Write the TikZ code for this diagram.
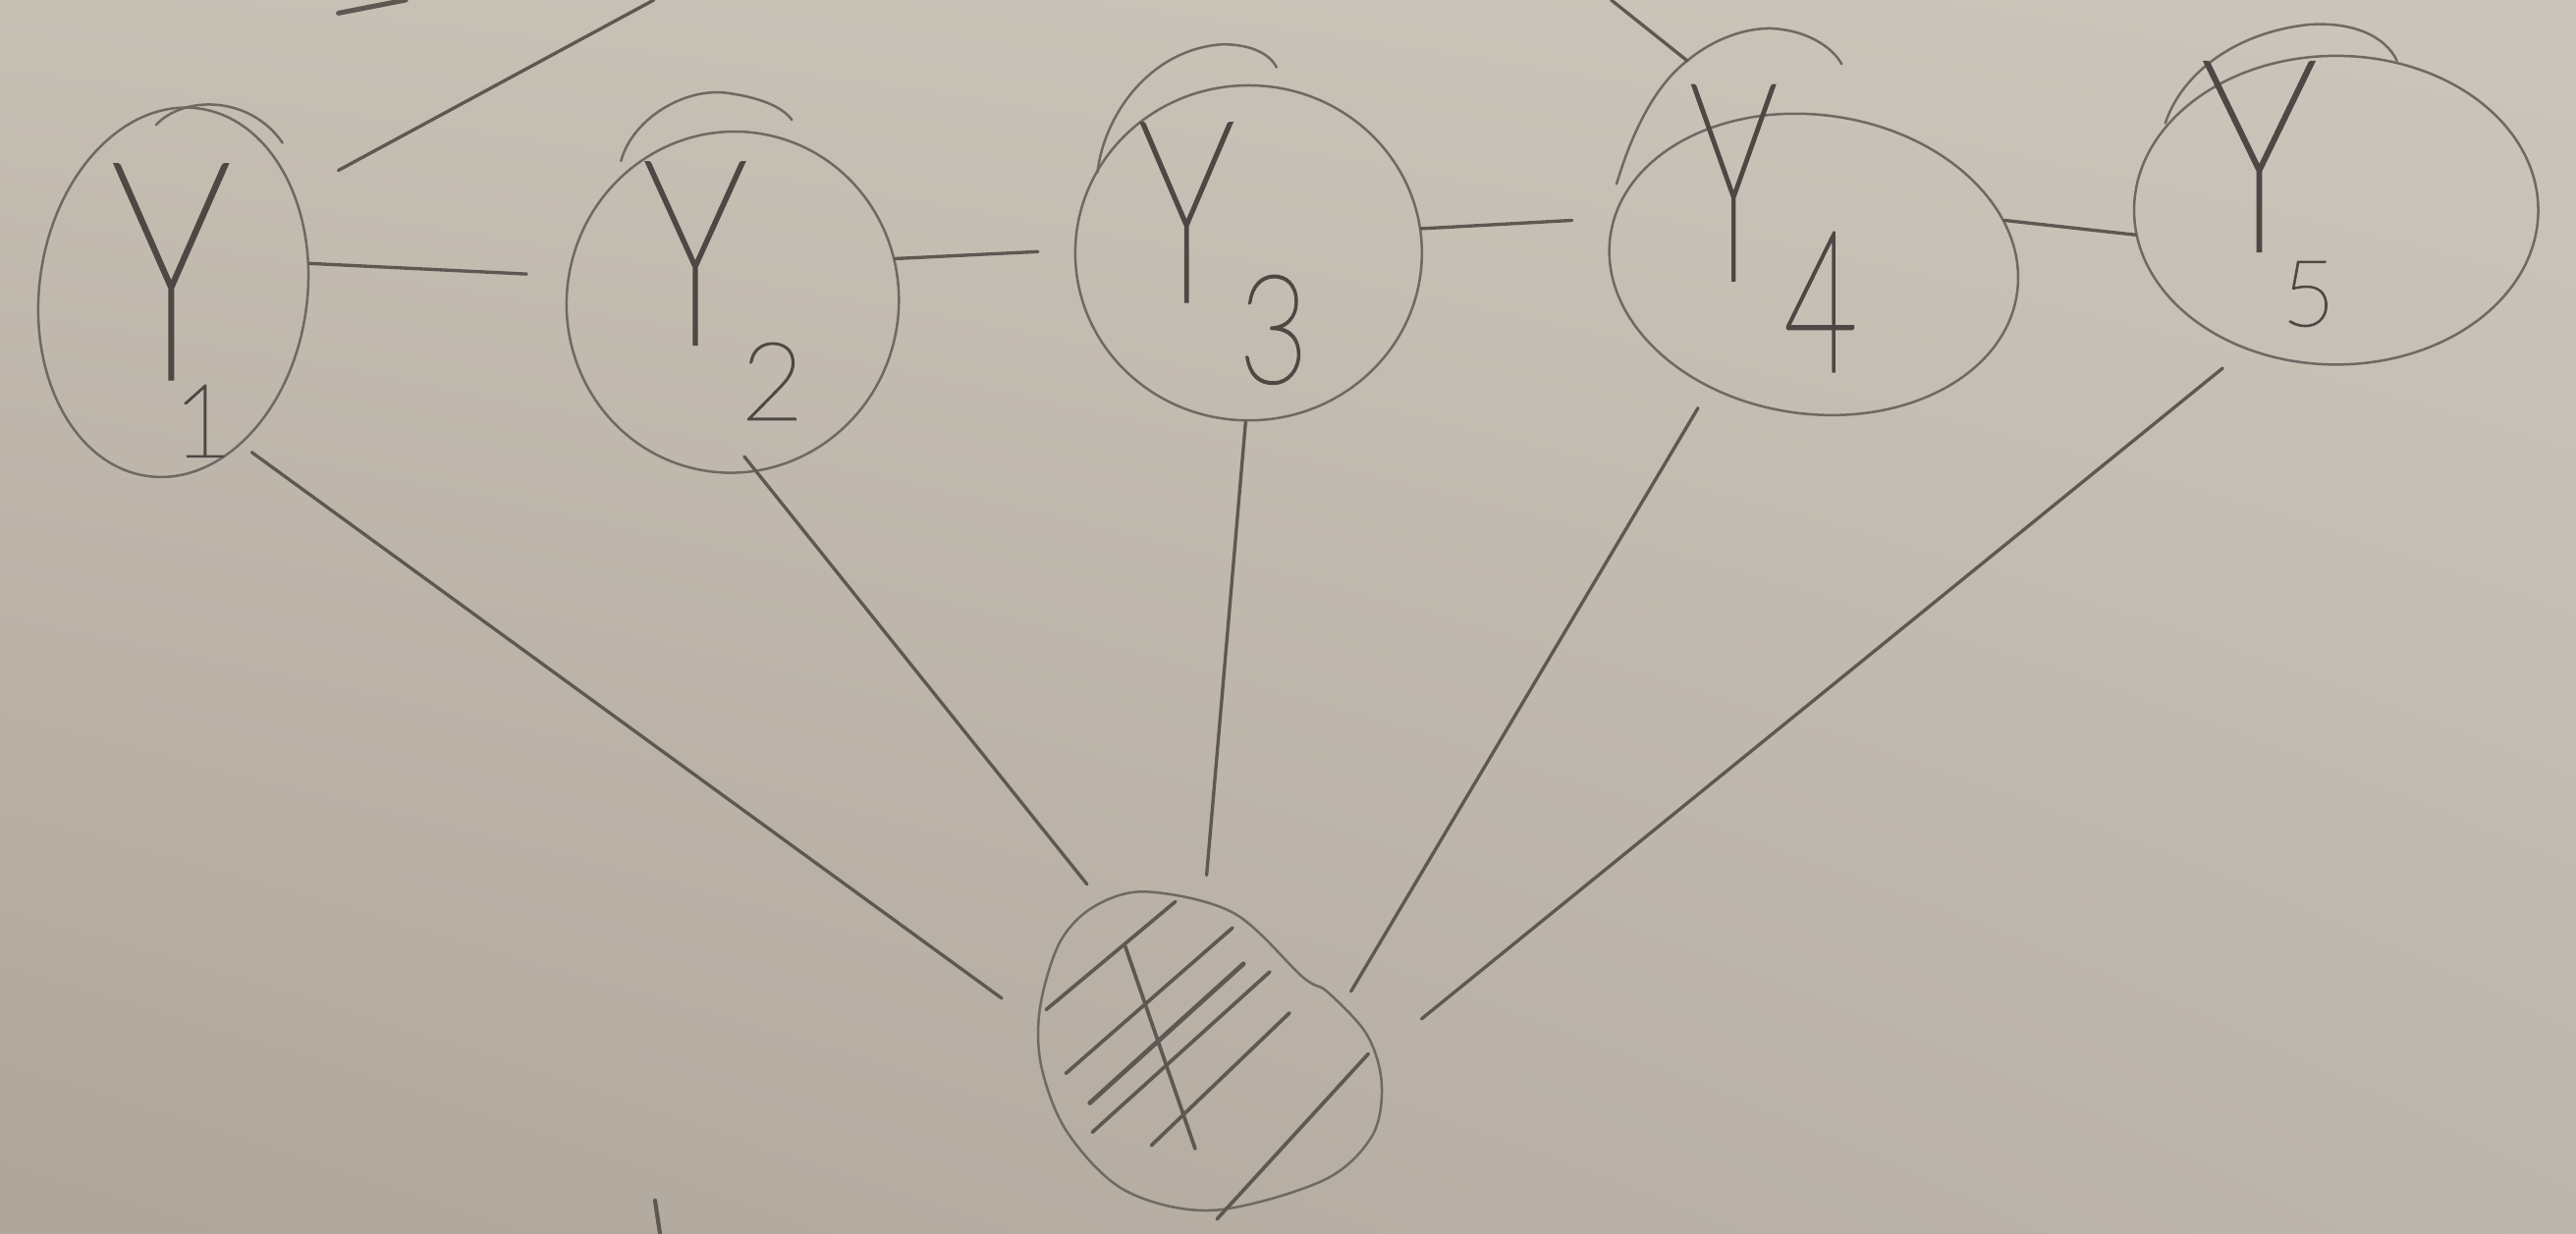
\documentclass[tikz,border=0pt]{standalone}
\usepackage{fontspec}
\usetikzlibrary{shapes.geometric,shadings}
\IfFontExistsTF{Lato Thin}{\newfontfamily\handfont{Lato Thin}[FakeBold=1.6]}{%
 \IfFontExistsTF{Fira Sans Thin}{\newfontfamily\handfont{Fira Sans Thin}[FakeBold=1.6]}{%
  \IfFontExistsTF{DejaVu Sans ExtraLight}{\newfontfamily\handfont{DejaVu Sans ExtraLight}}{\newfontfamily\handfont{DejaVu Sans}}}}
\newcommand\handsz[1]{\handfont\fontsize{#1}{#1}\selectfont}
% one label: Y centred on the node point, subscript digit centred dx to the right and lowered by dy
\newcommand\ylabel[6]{\makebox[0pt]{\handsz{#1}\scalebox{#2}[1]{Y}}\hspace*{#3pt}\makebox[0pt]{\raisebox{-#4pt}{\handsz{#5}#6}}}
\definecolor{paperUL}{HTML}{C6BFB4}
\definecolor{paperUR}{HTML}{CBC5BB}
\definecolor{paperLL}{HTML}{AFA59B}
\definecolor{paperLR}{HTML}{BDB6AC}
\definecolor{ink}{HTML}{6E6963}
\definecolor{edgeink}{HTML}{5E5853}
\definecolor{labink}{HTML}{4D4844}
\begin{document}
\begin{tikzpicture}[x=1pt,y=-1pt,
  oval/.style 2 args={ellipse, draw=ink, line width=1.5pt, minimum width=#1pt, minimum height=#2pt, inner sep=0pt},
  inkline/.style={draw=ink, line width=1.5pt, line cap=round},
  edge/.style={draw=edgeink, line width=2pt, line cap=round},
  hatch/.style={draw=edgeink, line width=2.2pt, line cap=round},
  lab/.style={inner sep=0pt, text=labink, anchor=base west}]
\useasboundingbox (0,0) rectangle (1568,751);
\shade[upper left=paperUL, upper right=paperUR, lower left=paperLL, lower right=paperLR] (0,0) rectangle (1568,751);
\clip (0,0) rectangle (1568,751);

% nodes
\node[oval={163}{226}, rotate=-8] (Y1) at (105.5,178) {};
\node[oval={202}{208}, rotate=-12] (Y2) at (446,184) {};
\node[oval={211}{204}] (Y3) at (760,154) {};
\node[oval={250}{182}, rotate=-8] (Y4) at (1104,161) {};
\node[oval={246}{188}] (Y5) at (1422,128) {};
\node[ellipse, minimum width=208pt, minimum height=194pt, inner sep=0pt] (X) at (737,640) {};

% hand-drawn overshoots of the circles
\draw[inkline] (95,76) .. controls (112,58) and (152,58) .. (172,87);
\draw[inkline] (378,98) .. controls (385,72) and (418,52) .. (445,57) .. controls (465,60) and (477,66) .. (482,73);
\draw[inkline] (668,105) .. controls (672,70) and (700,30) .. (744,27) .. controls (762,27) and (773,33) .. (777,41);
\coordinate (Y4tip) at (1027,37);
\draw[inkline] (984,112) .. controls (995,75) and (1010,50) .. (Y4tip) .. controls (1045,22) and (1068,15) .. (1085,18) .. controls (1100,20) and (1115,28) .. (1121,39);
\draw[inkline] (1318,75) .. controls (1328,45) and (1360,20) .. (1405,15) .. controls (1432,13) and (1452,22) .. (1459,37);

% X outline and hatching
\draw[inkline] plot[smooth cycle, tension=0.55] coordinates {(698,543) (751,556) (793,595) (808,604) (832,630) (841,660) (835,692) (805,719) (738,737) (685,725) (650,690) (634,650) (633,614) (645,574) (666,552)};
\draw[hatch] (636.8,614.8) -- (715.5,549);
\draw[hatch] (648.8,653.6) -- (750.2,565);
\draw[hatch, line width=2.8pt] (663.4,671.6) -- (756.9,586.9);
\draw[hatch] (664.8,689.5) -- (772.9,591.8);
\draw[hatch] (700.8,697.5) -- (784.9,616.8);
\draw[hatch] (740.8,742.3) -- (832.9,641.7);
\draw[hatch] (684.8,575.9) -- (727.5,699.5);

% labels (node point = centre of the Y on its baseline)
\node[lab] (L1) at (104,230.3) {\ylabel{185}{0.68}{19}{47.9}{62}{1}};
\node[lab] (L2) at (423,209.2) {\ylabel{157}{0.7}{47}{46.4}{66}{2}};
\node[lab] (L3) at (722,183.2) {\ylabel{154}{0.66}{53}{49.8}{92}{\scalebox{0.8}[1]{3}}};
\node[lab] (L4) at (1055,170.2) {\ylabel{168}{0.55}{53}{55.8}{120}{\scalebox{0.65}[1]{4}}};
\node[lab] (L5) at (1375,152.4) {\ylabel{163}{0.75}{30}{46}{56}{5}};

% chain edges
\draw[edge, shorten >=25pt] (Y1.20) -- (Y2.183);
\draw[edge, shorten >=22pt] (Y2.27) -- (Y3.179);
\draw[edge, shorten >=25pt] (Y3.8) -- (Y4.175);
\draw[edge] (Y4.21) -- (Y5.187);

% edges to X
\draw[edge, shorten <=8pt, shorten >=30pt] (Y1.-58) -- (X.172);
\draw[edge, shorten <=-12pt, shorten >=27pt] (Y2.-70) -- (X.126);
\draw[edge, shorten >=10pt] (Y3.-91) -- (X.92);
\draw[edge, shorten <=14pt, shorten >=-12pt] (Y4.238) -- (X.27);
\draw[edge, shorten <=18pt, shorten >=31pt] (Y5.237) -- (X.0);

% edges leaving the picture
\coordinate (T1) at (398,0);
\draw[edge, shorten <=30pt] (Y1.47) -- (T1);
\coordinate (T4) at (980.7,0);
\draw[edge] (T4) -- (Y4tip);
\draw[edge, line width=3pt] (206,8) -- (247,0);
\coordinate (B1) at (398.7,731);
\coordinate (B2) at (401.7,751);
\draw[edge, line width=2.5pt] (B1) -- (B2);
\end{tikzpicture}
\end{document}
